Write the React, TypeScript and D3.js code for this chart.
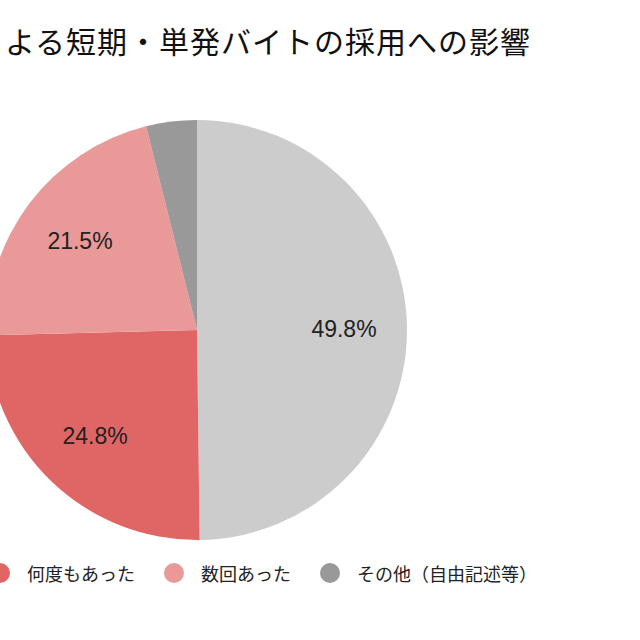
import { useEffect, useRef } from 'react';
import * as d3 from 'd3';

const categories = ['影響はなかった', '何度もあった', '数回あった', 'その他（自由記述等）'];
const values = [49.8, 24.8, 21.5, 3.9];
const colors = ['#cccccc', '#e06666', '#ea9999', '#999999'];
// only these legend entries are visible in the frame
const legendItems = ['何度もあった', '数回あった', 'その他（自由記述等）'];
const titleText = 'よる短期・単発バイトの採用への影響';

export default function App() {
    const svgRef = useRef<SVGSVGElement>(null);

    useEffect(() => {
        if (!svgRef.current) return;
        const svg = d3.select(svgRef.current);
        svg.selectAll('*').remove();

        const cx = 197;
        const cy = 330;
        const radius = 210;
        const jp = '"Noto Sans CJK JP", "Noto Sans", sans-serif';

        svg.append('rect').attr('width', 640).attr('height', 640).attr('fill', '#ffffff');

        svg.append('text')
            .attr('x', 5)
            .attr('y', 53)
            .attr('font-family', jp)
            .attr('font-size', 30)
            .attr('fill', '#111')
            .attr('textLength', 525)
            .attr('lengthAdjust', 'spacing')
            .text(titleText);

        const data = categories.map((c, i) => ({ name: c, value: values[i], color: colors[i] }));
        const pie = d3.pie<any>().sort(null).value((d) => d.value);
        const arcs = pie(data);
        const arc = d3.arc<any>().innerRadius(0).outerRadius(radius);
        const labelArc = d3.arc<any>().innerRadius(radius * 0.7).outerRadius(radius * 0.7);

        const g = svg.append('g').attr('transform', `translate(${cx},${cy})`);
        g.selectAll('path')
            .data(arcs)
            .enter()
            .append('path')
            .attr('d', arc)
            .attr('fill', (d) => d.data.color);

        // small slices get no label
        g.selectAll('text')
            .data(arcs.filter((d) => d.data.value > 5))
            .enter()
            .append('text')
            .attr('transform', (d) => `translate(${labelArc.centroid(d)})`)
            .attr('text-anchor', 'middle')
            .attr('dominant-baseline', 'central')
            .attr('font-family', '"Liberation Sans", Arial, sans-serif')
            .attr('font-size', 23)
            .attr('fill', '#222')
            .text((d) => `${d.data.value.toFixed(1)}%`);

        // legend, laid out from measured text widths
        let x = 0;
        const ly = 573;
        legendItems.forEach((name) => {
            const i = categories.indexOf(name);
            svg.append('circle').attr('cx', x).attr('cy', ly).attr('r', 10).attr('fill', colors[i]);
            const t = svg.append('text')
                .attr('x', x + 27)
                .attr('y', ly)
                .attr('dominant-baseline', 'central')
                .attr('font-family', jp)
                .attr('font-size', 18)
                .attr('fill', '#222')
                .text(name);
            const w = (t.node() as SVGTextElement).getComputedTextLength();
            x = x + 27 + w + 39;
        });

        return () => {
            d3.select(svgRef.current).selectAll('*').remove();
        };
    }, []);

    return (
        <div style={{ position: 'fixed', left: 0, top: 0 }}>
            <svg ref={svgRef} width={640} height={640} style={{ display: 'block' }}></svg>
        </div>
    );
}
